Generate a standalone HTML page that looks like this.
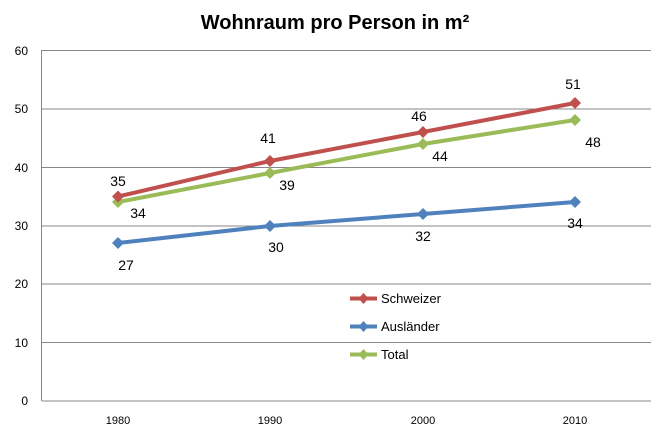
<!DOCTYPE html>
<html><head><meta charset="utf-8"><style>
body{margin:0;background:#fff;}
svg text{font-family:"Liberation Sans",Arial,sans-serif;}
</style></head><body>
<svg width="669" height="431" viewBox="0 0 669 431" xmlns="http://www.w3.org/2000/svg">
<rect width="669" height="431" fill="#fff"/>
<text x="335" y="29" text-anchor="middle" font-size="20" font-weight="bold" fill="#000">Wohnraum pro Person in m²</text>
<g stroke="#878787" stroke-width="1">
<line x1="42" y1="50.5" x2="651" y2="50.5"/>
<line x1="42" y1="109" x2="651" y2="109"/>
<line x1="42" y1="167.5" x2="651" y2="167.5"/>
<line x1="42" y1="226" x2="651" y2="226"/>
<line x1="42" y1="284" x2="651" y2="284"/>
<line x1="42" y1="342.5" x2="651" y2="342.5"/>
<line x1="42" y1="401" x2="651" y2="401"/>
<line x1="41.5" y1="50" x2="41.5" y2="401"/>
</g>
<g font-size="12" fill="#000" text-anchor="end">
<text x="28" y="55">60</text><text x="28" y="113">50</text><text x="28" y="172">40</text>
<text x="28" y="230">30</text><text x="28" y="288">20</text><text x="28" y="347">10</text><text x="28" y="405">0</text>
</g>
<g font-size="11" fill="#000" text-anchor="middle">
<text x="118" y="424">1980</text><text x="270" y="424">1990</text><text x="423" y="424">2000</text><text x="575" y="424">2010</text>
</g>
<g stroke-width="4" fill="none" stroke-linejoin="round">
<polyline stroke="#4f81bd" points="118,243 270,226 423,214 575,202"/>
<polyline stroke="#9bbb59" points="118,202 270,173 423,144 575,120"/>
<polyline stroke="#c0504d" points="118,196.5 270,161 423,132 575,103"/>
</g>
<g>
<g fill="#4f81bd"><path d="M118,237l6,6-6,6-6-6z"/><path d="M270,220l6,6-6,6-6-6z"/><path d="M423,208l6,6-6,6-6-6z"/><path d="M575,196l6,6-6,6-6-6z"/></g>
<g fill="#9bbb59"><path d="M118,196l6,6-6,6-6-6z"/><path d="M270,167l6,6-6,6-6-6z"/><path d="M423,138l6,6-6,6-6-6z"/><path d="M575,114l6,6-6,6-6-6z"/></g>
<g fill="#c0504d"><path d="M118,190.5l6,6-6,6-6-6z"/><path d="M270,155l6,6-6,6-6-6z"/><path d="M423,126l6,6-6,6-6-6z"/><path d="M575,97l6,6-6,6-6-6z"/></g>
</g>
<g font-size="14" fill="#000" text-anchor="middle">
<text x="118" y="186">35</text><text x="268" y="143">41</text><text x="419" y="121">46</text><text x="573" y="89">51</text>
<text x="138" y="218">34</text><text x="287" y="190">39</text><text x="440" y="161">44</text><text x="593" y="147">48</text>
<text x="126" y="270">27</text><text x="276" y="252">30</text><text x="423" y="241">32</text><text x="575" y="228">34</text>
</g>
<g font-size="13" fill="#000">
<line x1="350" y1="298.5" x2="377" y2="298.5" stroke="#c0504d" stroke-width="4"/><path d="M363.5,293l5,5.5-5,5.5-5-5.5z" fill="#c0504d"/>
<text x="381" y="303">Schweizer</text>
<line x1="350" y1="326.5" x2="377" y2="326.5" stroke="#4f81bd" stroke-width="4"/><path d="M363.5,321l5,5.5-5,5.5-5-5.5z" fill="#4f81bd"/>
<text x="381" y="331">Ausländer</text>
<line x1="350" y1="354.5" x2="377" y2="354.5" stroke="#9bbb59" stroke-width="4"/><path d="M363.5,349l5,5.5-5,5.5-5-5.5z" fill="#9bbb59"/>
<text x="381" y="359">Total</text>
</g>
</svg>
</body></html>
